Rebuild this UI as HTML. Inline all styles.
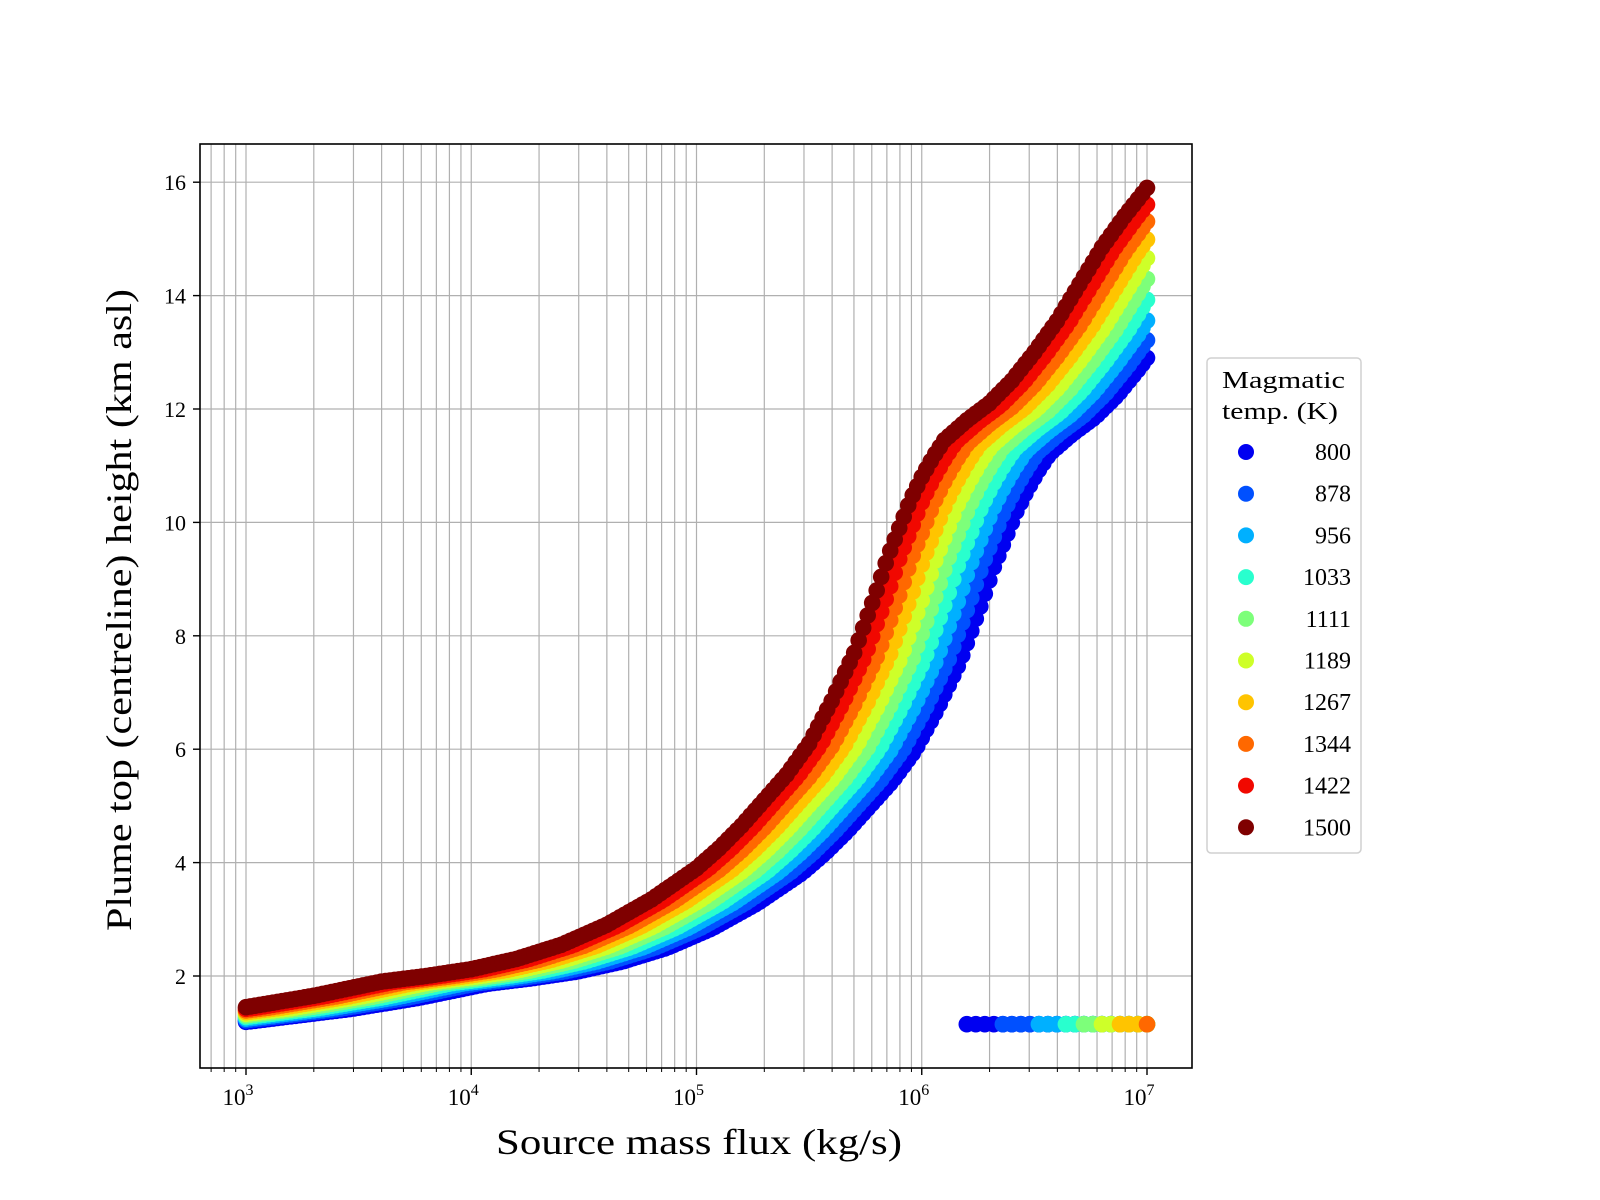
<!DOCTYPE html>
<html><head><meta charset="utf-8"><style>
html,body{margin:0;padding:0;background:#fff;}
svg{display:block;font-family:"Liberation Serif",serif;}
</style></head><body>
<svg id="s" width="1600" height="1200" xmlns="http://www.w3.org/2000/svg">
<rect width="1600" height="1200" fill="#fff"/>
<g id="grid"></g>
<g id="data"></g>
<rect x="200" y="144" width="992" height="924" fill="none" stroke="#000" stroke-width="1.6"/>
<g id="ticks"></g>
<text x="699" y="1154" font-size="36" text-anchor="middle" textLength="406" lengthAdjust="spacingAndGlyphs">Source mass flux (kg/s)</text>
<text transform="translate(131,610) rotate(-90)" font-size="36" text-anchor="middle" textLength="642" lengthAdjust="spacingAndGlyphs">Plume top (centreline) height (km asl)</text>
<g id="legend">
<rect x="1207" y="358" width="154" height="495" rx="4" fill="#fff" stroke="#d0d0d0" stroke-width="1.5"/>
<text x="1222" y="388" font-size="24" textLength="123" lengthAdjust="spacingAndGlyphs">Magmatic</text>
<text x="1222" y="419" font-size="24" textLength="116" lengthAdjust="spacingAndGlyphs">temp. (K)</text>
</g>
</svg>
<script>
const NS="http://www.w3.org/2000/svg";
function el(p,t,a,txt){const e=document.createElementNS(NS,t);for(const k in a)e.setAttribute(k,a[k]);if(txt!==undefined)e.textContent=txt;p.appendChild(e);return e;}
const X=l=>246+(l-3)*225.25, Y=v=>976-(v-2)*56.7;
const grid=document.getElementById('grid'),ticks=document.getElementById('ticks'),data=document.getElementById('data'),leg=document.getElementById('legend');
for(let d=2;d<=7;d++)for(let m=1;m<=9;m++){const l=d+Math.log10(m);if(l<2.8||l>7.2)continue;const x=X(l);
 el(grid,'line',{x1:x,x2:x,y1:144,y2:1068,stroke:'#b0b0b0','stroke-width':1.2});
 el(ticks,'line',{x1:x,x2:x,y1:1068,y2:m==1?1075:1072,stroke:'#000','stroke-width':m==1?1.4:1});
 if(m==1){const t=el(ticks,'text',{x:x-8,y:1105,'font-size':23,'text-anchor':'middle'},'10');el(t,'tspan',{dy:-10,'font-size':16},String(d));}}
for(let v=2;v<=16;v+=2){const y=Y(v);el(grid,'line',{x1:200,x2:1192,y1:y,y2:y,stroke:'#b0b0b0','stroke-width':1.2});
 el(ticks,'line',{x1:193,x2:200,y1:y,y2:y,stroke:'#000','stroke-width':1.4});
 el(ticks,'text',{x:186,y:y+8,'font-size':22,'text-anchor':'end'},String(v));}
const hi=[[2.5,1.2],[3,1.45],[3.3,1.65],[3.6,1.9],[3.8,2.0],[4,2.12],[4.2,2.3],[4.4,2.55],[4.6,2.9],[4.8,3.35],[5,3.9],[5.1,4.25],[5.2,4.65],[5.3,5.1],[5.4,5.55],[5.5,6.1],[5.6,6.85],[5.7,7.7],[5.75,8.25],[5.8,8.8],[5.85,9.4],[5.9,9.9],[5.95,10.4],[6,10.8],[6.05,11.15],[6.1,11.45],[6.2,11.8],[6.3,12.1],[6.4,12.5],[6.5,13.0],[6.6,13.55],[6.7,14.2],[6.8,14.85],[6.9,15.4],[7,15.9]];
function interp(c,l){if(l<=c[0][0])return c[0][1];for(let i=0;i<c.length-1;i++)if(l<=c[i+1][0]){const t=(l-c[i][0])/(c[i+1][0]-c[i][0]);return c[i][1]+t*(c[i+1][1]-c[i][1]);}return c[c.length-1][1];}
const cols=['#0000f1','#0050ff','#00b0ff','#29ffce','#7dff7a','#ceff29','#ffc400','#ff6800','#f10800','#7f0000'];
const temps=['800','878','956','1033','1111','1189','1267','1344','1422','1500'];
const starts=[6.19,6.33,6.5,6.62,6.72,6.8,6.88,7.0,99,99];
for(let k=0;k<10;k++){const f=k/9;const sh=0.47*(1-f);const sc=1-0.02*(1-f);
 for(let i=0;i<=200;i++){const l=3+i*0.02;
  const v=interp(hi,l-sh)*sc;
  el(data,'circle',{cx:X(l),cy:Y(v),r:8.3,fill:cols[k]});}
 for(let i=0;i<=100;i++){const l=3+i*0.04;if(l<starts[k]-1e-6)continue;
  el(data,'circle',{cx:X(l),cy:Y(1.15),r:8.3,fill:cols[k]});}
 const ly=452+k*41.7;
 el(leg,'circle',{cx:1246,cy:ly,r:8,fill:cols[k]});
 el(leg,'text',{x:1351,y:ly+8,'font-size':24,'text-anchor':'end'},temps[k]);}
</script>
</body></html>
